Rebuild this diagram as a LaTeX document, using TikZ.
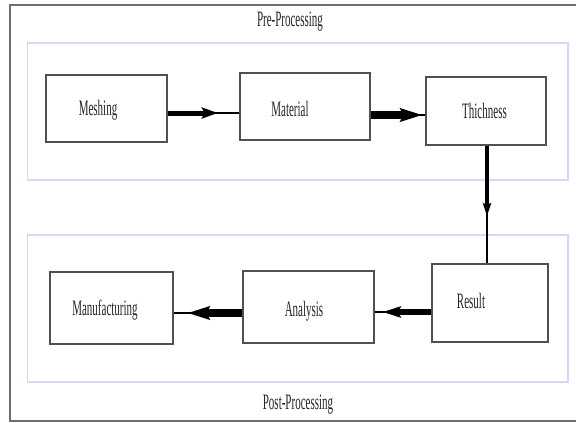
\documentclass[tikz,border=0pt]{standalone}
\usepackage{fontspec}
\setmainfont{Liberation Serif}
\usetikzlibrary{arrows.meta,calc}
\newcommand{\sqz}[1]{\scalebox{0.5}[1]{#1}}
\definecolor{lav}{HTML}{D8D8F4}
\definecolor{frm}{HTML}{6E6E6E}
\definecolor{bxc}{HTML}{505050}
\tikzset{
  stepbox/.style={draw=bxc, line width=1.7pt, fill=white, inner sep=0pt},
  grp/.style={draw=lav, line width=1.3pt},
  lbl/.style={text=black!85, font=\fontsize{22}{24}\selectfont, inner sep=0pt},
  thinln/.style={line width=2pt, black},
}
\begin{document}
\begin{tikzpicture}[x=1pt, y=-1pt]
\clip (0,0) rectangle (576,423);
\fill[white] (0,0) rectangle (576,423);
% outer frame
\draw[frm, line width=2pt] (9.5,4.5) rectangle (585,421);
% group boxes
\draw[grp] (27.5,43) rectangle (568,180);
\draw[grp] (27.5,235) rectangle (568,382);
\node[lbl] (pre) at (290,22) {\sqz{Pre-Processing}};
\node[lbl] (post) at (298,405) {\sqz{Post-Processing}};
% boxes
\node[stepbox, minimum width=121pt, minimum height=67pt] (mesh) at (106.5,108.5) {};
\node[stepbox, minimum width=130pt, minimum height=67pt] (mat) at (305,106.5) {};
\node[stepbox, minimum width=120pt, minimum height=68pt] (thi) at (486,111) {};
\node[stepbox, minimum width=116pt, minimum height=78pt] (res) at (490,303) {};
\node[stepbox, minimum width=131pt, minimum height=72pt] (ana) at (308.5,307) {};
\node[stepbox, minimum width=123pt, minimum height=72pt] (man) at (111.5,308) {};
% labels
\node[lbl] (tmesh) at (98,110) {\sqz{Meshing}};
\node[lbl] (tmat) at (290,108.5) {\sqz{Material}};
\node[lbl] (tthi) at (484.5,110.5) {\sqz{Thichness}};
\node[lbl] (tres) at (471,301) {\sqz{Result}};
\node[lbl] (tana) at (304,311) {\sqz{Analysis}};
\node[lbl] (tman) at (105,310) {\sqz{Manufacturing}};
% connector coordinates
\coordinate (a1) at ([yshift=-4.5pt]mesh.east);
\coordinate (a2) at (a1 -| mat.west);
\coordinate (b1) at ([yshift=-8.5pt]mat.east);
\coordinate (b2) at (b1 -| thi.west);
\coordinate (c1) at ([xshift=1pt]thi.south);
\coordinate (c2) at (c1 |- res.north);
\coordinate (d1) at ([yshift=-9pt]res.west);
\coordinate (d2) at (d1 -| ana.east);
\coordinate (e1) at ([yshift=-6pt]ana.west);
\coordinate (e2) at (e1 -| man.east);
% connectors
\draw[thinln] (a1) -- (a2);
\draw[line width=5pt, -{Stealth[length=16pt,width=11pt,inset=3pt]}] (a1) -- ($(a1)!0.70!(a2)$);
\draw[thinln] (b1) -- (b2);
\draw[line width=8pt, -{Stealth[length=22pt,width=13pt,inset=3pt]}] (b1) -- ($(b1)!0.95!(b2)$);
\draw[thinln] (c1) -- (c2);
\draw[line width=4pt, -{Stealth[length=13pt,width=8pt,inset=2pt]}] (c1) -- ($(c1)!0.60!(c2)$);
\draw[thinln] (d1) -- (d2);
\draw[line width=6pt, -{Stealth[length=18pt,width=11pt,inset=3pt]}] (d1) -- ($(d1)!0.86!(d2)$);
\draw[thinln] (e1) -- (e2);
\draw[line width=8pt, -{Stealth[length=22pt,width=13pt,inset=3pt]}] (e1) -- ($(e1)!0.80!(e2)$);
\end{tikzpicture}
\end{document}
